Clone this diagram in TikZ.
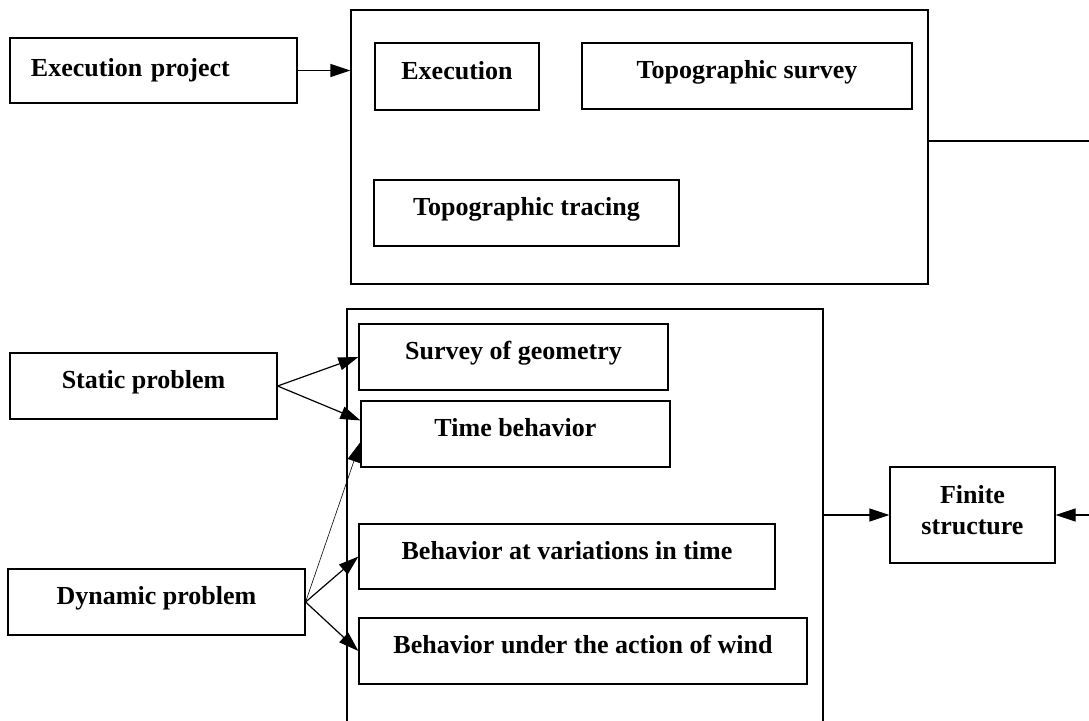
\documentclass[tikz,border=0pt]{standalone}
\usepackage{fontspec}
\setmainfont{Liberation Serif}
\usetikzlibrary{arrows.meta}

\tikzset{
	blk/.style={draw, rectangle, line width=0.6pt, inner sep=0pt, font=\fontsize{13}{15.6}\selectfont\bfseries},
	lbl/.style={blk, text height=9pt, text depth=6.4pt},
	arr/.style={-{Triangle[length=10pt,width=6.5pt]}, line width=0.6pt},
}

\begin{document}
\begin{tikzpicture}[x=0.5pt, y=-0.5pt]

		\useasboundingbox (0,0) rectangle (1089,720);
		\clip (0,0) rectangle (1089,720);

		\node[blk, minimum width=143.5pt, minimum height=32.5pt, text width=122.5pt, inner xsep=10.5pt, align=left] (proj) at (153.5,70.5) {Execution project};

		\node[blk, minimum width=288.5pt, minimum height=137pt] (field) at (639.5,147) {};
		\node[lbl, minimum width=82pt, minimum height=33.5pt] (exec) at (457,76.5) {Execution};
		\node[lbl, minimum width=165pt, minimum height=33pt] (topsurvey) at (747,76) {Topographic survey};
		\node[lbl, minimum width=152.5pt, minimum height=33pt] (toptrace) at (526.5,213) {Topographic tracing};

		\node[lbl, minimum width=133.5pt, minimum height=33pt] (static) at (143.5,386) {Static problem};
		\node[lbl, minimum width=148.5pt, minimum height=33pt] (dynamic) at (156.5,602) {Dynamic problem};

		\node[blk, minimum width=238pt, minimum height=225.5pt] (analysis) at (585,534.5) {};
		\node[lbl, minimum width=154.5pt, minimum height=33pt] (geom) at (513.5,357) {Survey of geometry};
		\node[lbl, minimum width=154.5pt, minimum height=33pt] (timebeh) at (515.5,434) {Time behavior};
		\node[lbl, minimum width=208pt, minimum height=32.5pt] (vartime) at (567,556.5) {Behavior at variations in time};
		\node[lbl, minimum width=224pt, minimum height=33pt] (wind) at (583,651) {Behavior under the action of wind};

		\node[blk, minimum width=82.5pt, minimum height=48pt, align=center, text depth=5pt] (finite) at (972.5,515) {Finite\\structure};

		\coordinate (edgeA) at (1089,141);
		\coordinate (edgeB) at (1089,515);

		\draw[arr] (proj.east) -- (proj.east -| field.west);
		\draw[line width=0.6pt] (field.east |- edgeA) -- (edgeA);

		\draw[arr] (static.east) -- (geom.west);
		\draw[arr] (static.east) -- (timebeh.175);

		\draw[arr, line width=0.3pt] (dynamic.east) -- (timebeh.183);
		\draw[arr] (dynamic.east) -- (vartime.west);
		\draw[arr] (dynamic.east) -- (wind.west);

		\draw[arr] (analysis.east |- finite.west) -- (finite.west);
		\draw[arr] (edgeB) -- (finite.east);

	\end{tikzpicture}
\end{document}
